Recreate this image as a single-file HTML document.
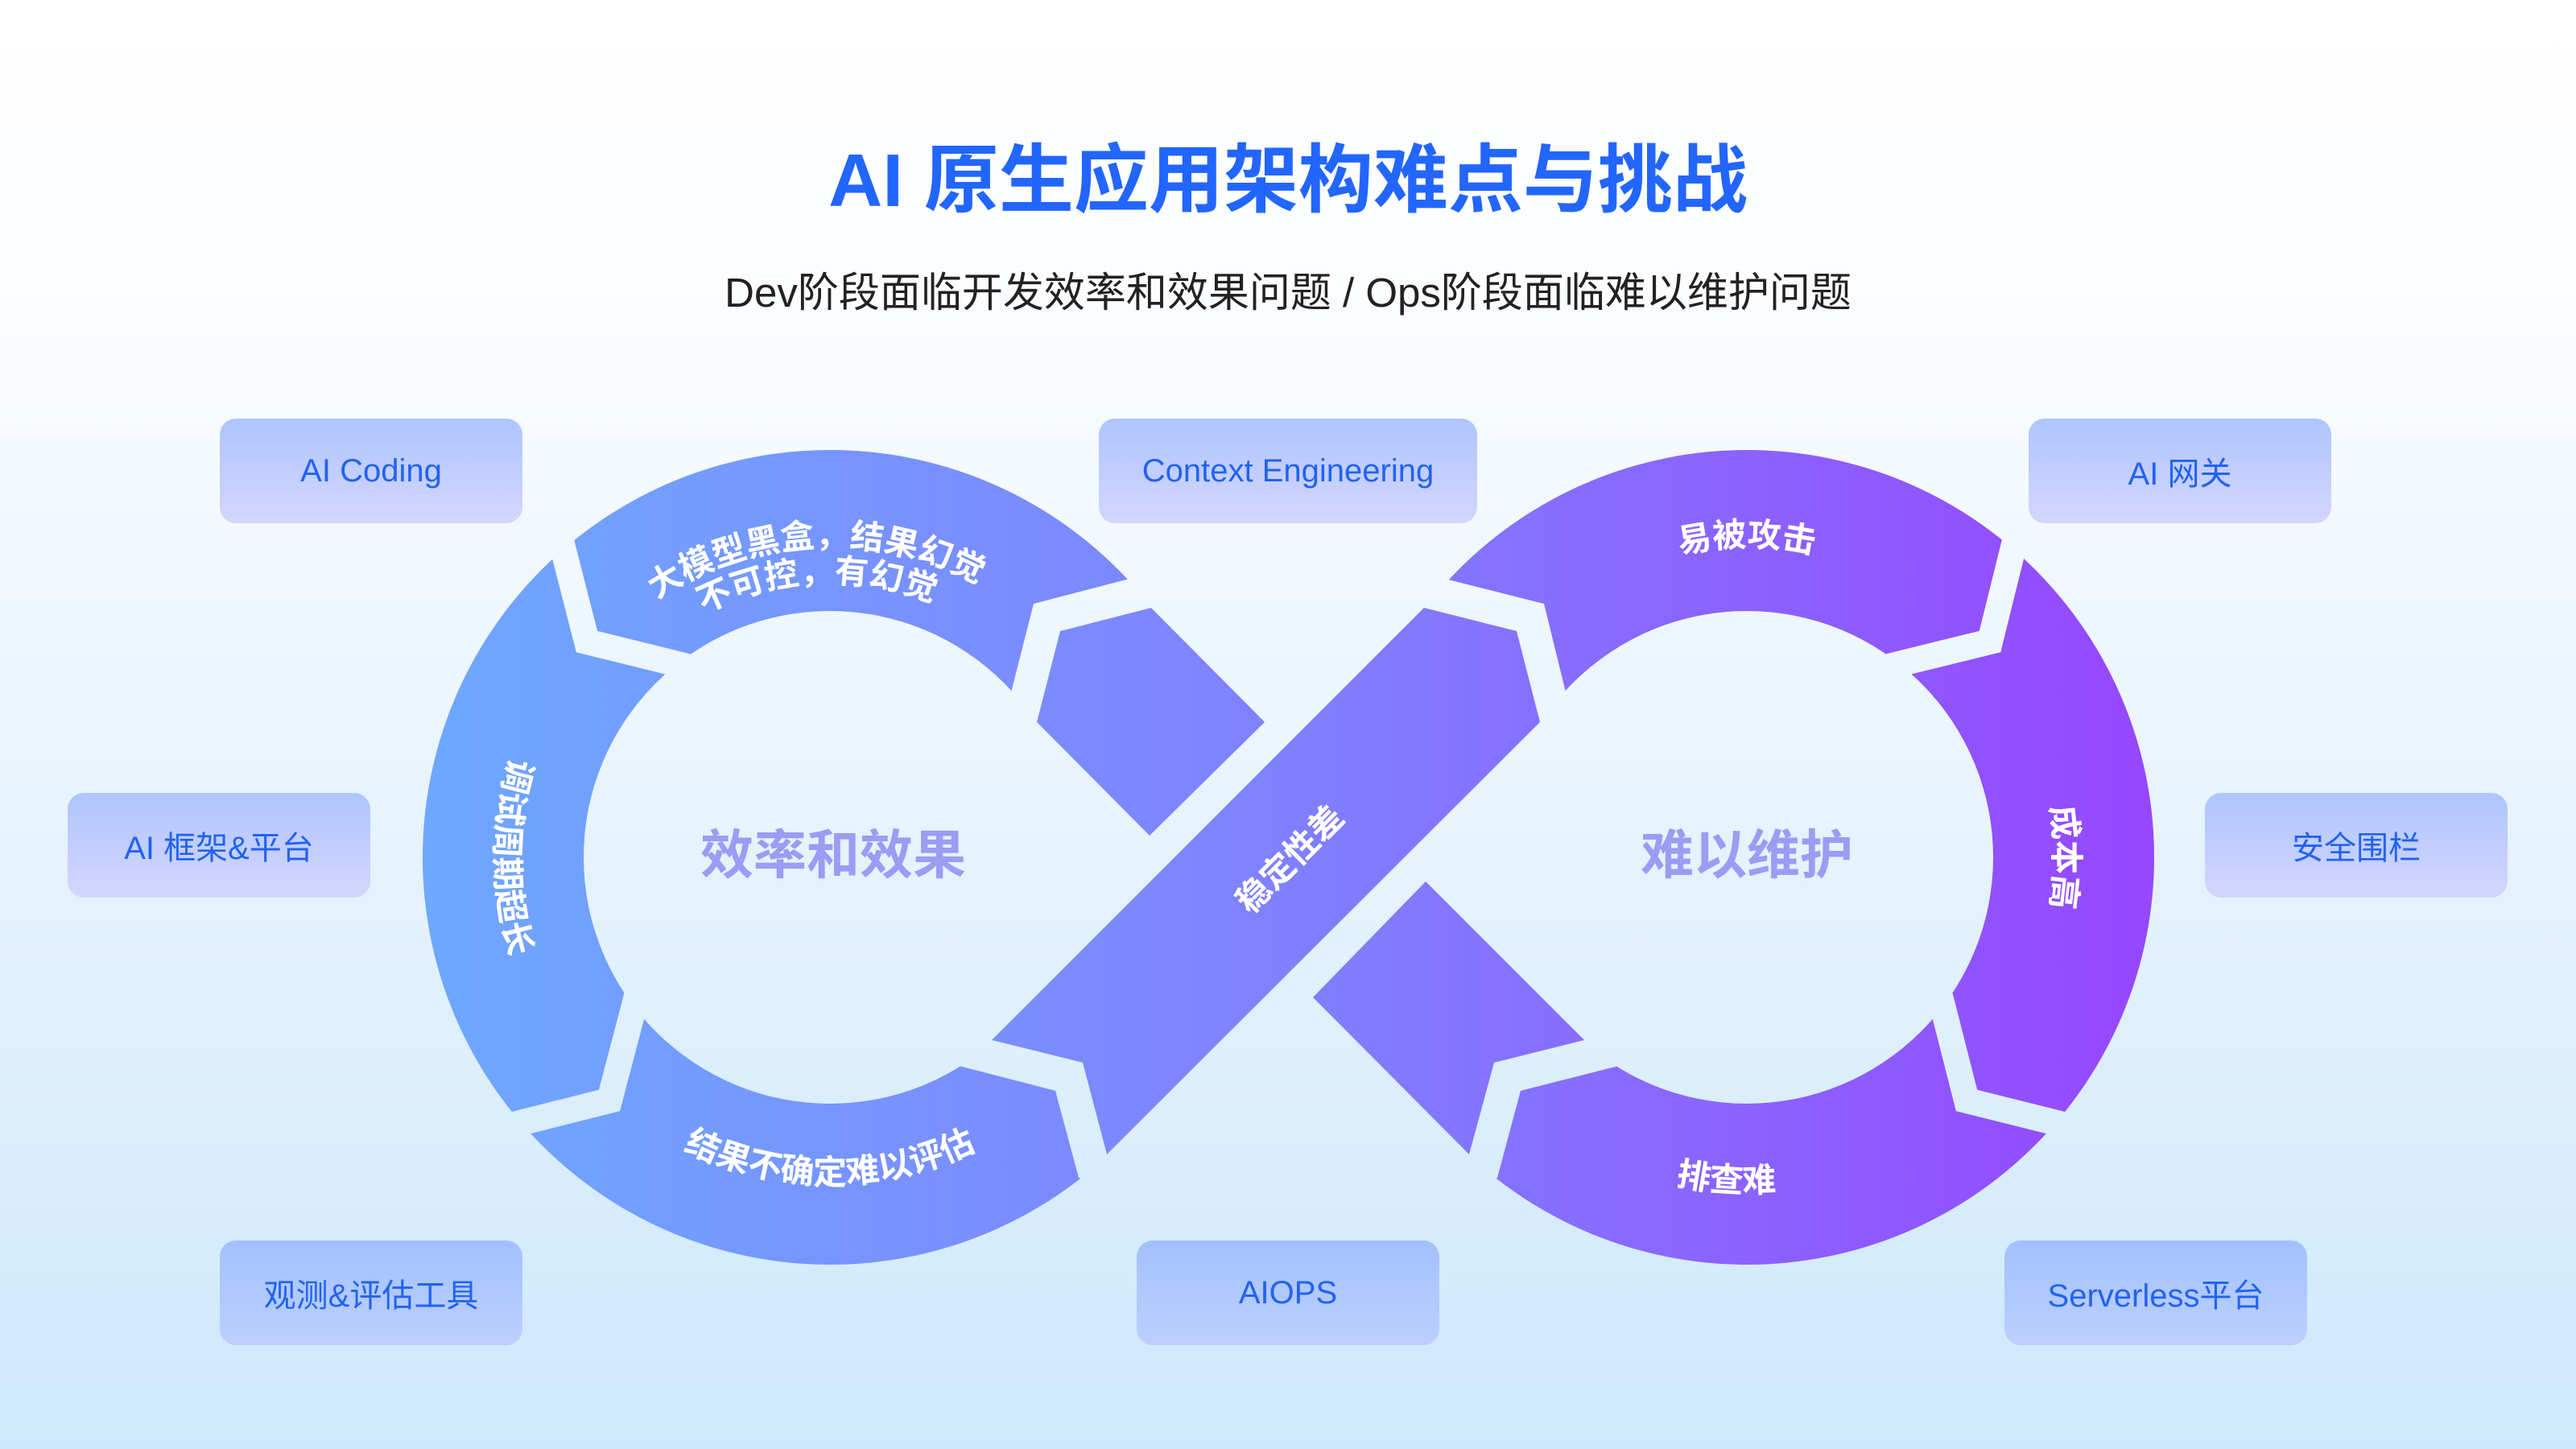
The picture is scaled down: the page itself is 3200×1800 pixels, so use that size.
<!DOCTYPE html>
<html><head><meta charset="utf-8"><style>
html,body{margin:0;padding:0}
body{width:3200px;height:1800px;overflow:hidden;background:linear-gradient(180deg,#ffffff 0%,#fbfdff 20%,#e8f4fd 55%,#cde8fc 100%);font-family:"Liberation Sans","Noto Sans CJK SC",sans-serif;position:relative}
.t{position:absolute;left:0;width:3200px;text-align:center}
.box{position:absolute;width:376px;height:130px;border-radius:20px;background:linear-gradient(180deg,#aec5ff 0%,#d4d6fd 100%);color:#2263f0;font-size:40px;display:flex;align-items:center;justify-content:center}
.b2{background:linear-gradient(180deg,#a3c0ff 0%,#bcd0ff 100%)}
</style></head><body>
<div class="t" style="top:168px;font-size:93px;font-weight:bold;color:#2266ff;line-height:112px">AI 原生应用架构难点与挑战</div>
<div class="t" style="top:334px;font-size:51px;color:#222;line-height:60px">Dev阶段面临开发效率和效果问题 / Ops阶段面临难以维护问题</div>

<svg style="position:absolute;left:0;top:0" width="3200" height="1800" viewBox="0 0 3200 1800">
<defs>
<linearGradient id="g" gradientUnits="userSpaceOnUse" x1="520" y1="0" x2="2690" y2="0">
<stop offset="0" stop-color="#6ea8ff"/><stop offset="0.5" stop-color="#8080ff"/><stop offset="1" stop-color="#9646ff"/>
</linearGradient>
<clipPath id="cl"><polygon points="1450,400 1450,707 1395,721 1284,750 1255,864 1031,1065 1191,1324 1311,1355 1340,1463 1400,1479 1400,1700 400,1700 400,400"/></clipPath>
<clipPath id="cr"><polygon points="1750,400 1750,707 1803,721 1918,750 1946,864 2170,1065 2011,1324 1889,1355 1860,1463 1800,1479 1800,1700 2800,1700 2800,400"/></clipPath>
<mask id="ml" maskUnits="userSpaceOnUse" x="0" y="0" width="3200" height="1800">
<rect width="3200" height="1800" fill="#fff"/>
<polyline points="690,640 700,684 729,797 846,826 900,840" fill="none" stroke="#000" stroke-width="32" stroke-linejoin="miter"/>
<polyline points="600,1407 646,1395 757,1367 788,1249 800,1200" fill="none" stroke="#000" stroke-width="32" stroke-linejoin="miter"/>
</mask>
<mask id="mr" maskUnits="userSpaceOnUse" x="0" y="0" width="3200" height="1800">
<rect width="3200" height="1800" fill="#fff"/>
<polyline points="2511,640 2500,684 2472,797 2354,826 2300,840" fill="none" stroke="#000" stroke-width="32" stroke-linejoin="miter"/>
<polyline points="2600,1407 2555,1395 2443,1367 2413,1249 2400,1200" fill="none" stroke="#000" stroke-width="32" stroke-linejoin="miter"/>
</mask>
<path id="lt1" d="M645,1065 A386,386 0 0 1 1417,1065"/>
<path id="lt2" d="M690,1065 A341,341 0 0 1 1372,1065"/>
<path id="ll" d="M671,857 A416,416 0 0 0 671,1273"/>
<path id="lb" d="M625,1065 A406,406 0 0 0 1437,1065"/>
<path id="rt" d="M1784,1065 A386,386 0 0 1 2556,1065"/>
<path id="rr" d="M2501,874 A382,382 0 0 1 2501,1256"/>
<path id="rb" d="M1754,1065 A416,416 0 0 0 2586,1065"/>
</defs>
<g fill="url(#g)">
<g clip-path="url(#cl)" mask="url(#ml)">
<path fill-rule="evenodd" d="M525,1065 a506,506 0 1 0 1012,0 a506,506 0 1 0 -1012,0 Z M725,1065 a306,306 0 1 0 612,0 a306,306 0 1 0 -612,0 Z"/>
</g>
<g clip-path="url(#cr)" mask="url(#mr)">
<path fill-rule="evenodd" d="M1664,1065 a506,506 0 1 0 1012,0 a506,506 0 1 0 -1012,0 Z M1864,1065 a306,306 0 1 0 612,0 a306,306 0 1 0 -612,0 Z"/>
</g>
<polygon points="1769,755 1884,784 1913,897 1375,1434 1345,1320 1232,1292"/>
<polygon points="1430,755 1571,897 1428,1038 1288,897 1317,784"/>
<polygon points="1771,1095 1968,1292 1856,1320 1825,1434 1631,1239"/>
</g>
<g fill="#fff" font-weight="bold" font-size="42" font-family="Liberation Sans, Noto Sans CJK SC, sans-serif" text-anchor="middle">
<text><textPath href="#lt1" startOffset="48.5%">大模型黑盒，结果幻觉</textPath></text>
<text><textPath href="#lt2" startOffset="48.5%">不可控，有幻觉</textPath></text>
<text><textPath href="#ll" startOffset="50%">调试周期超长</textPath></text>
<text><textPath href="#lb" startOffset="50%">结果不确定难以评估</textPath></text>
<text><textPath href="#rt" startOffset="50%">易被攻击</textPath></text>
<text><textPath href="#rr" startOffset="50%">成本高</textPath></text>
<text><textPath href="#rb" startOffset="48%">排查难</textPath></text>
<text x="1602" y="1082" transform="rotate(-45 1602 1067)">稳定性差</text>
</g>
<g fill="#9c9cf4" font-weight="bold" font-size="66" font-family="Liberation Sans, Noto Sans CJK SC, sans-serif" text-anchor="middle">
<text x="1035" y="1085">效率和效果</text>
<text x="2170" y="1085">难以维护</text>
</g>
</svg>

<div class="box" style="left:273px;top:520px">AI Coding</div>
<div class="box" style="left:1365px;top:520px;width:470px">Context Engineering</div>
<div class="box" style="left:2520px;top:520px">AI 网关</div>
<div class="box" style="left:84px;top:985px">AI 框架&amp;平台</div>
<div class="box" style="left:2739px;top:985px">安全围栏</div>
<div class="box b2" style="left:273px;top:1541px">观测&amp;评估工具</div>
<div class="box b2" style="left:1412px;top:1541px">AIOPS</div>
<div class="box b2" style="left:2490px;top:1541px">Serverless平台</div>
</body></html>
